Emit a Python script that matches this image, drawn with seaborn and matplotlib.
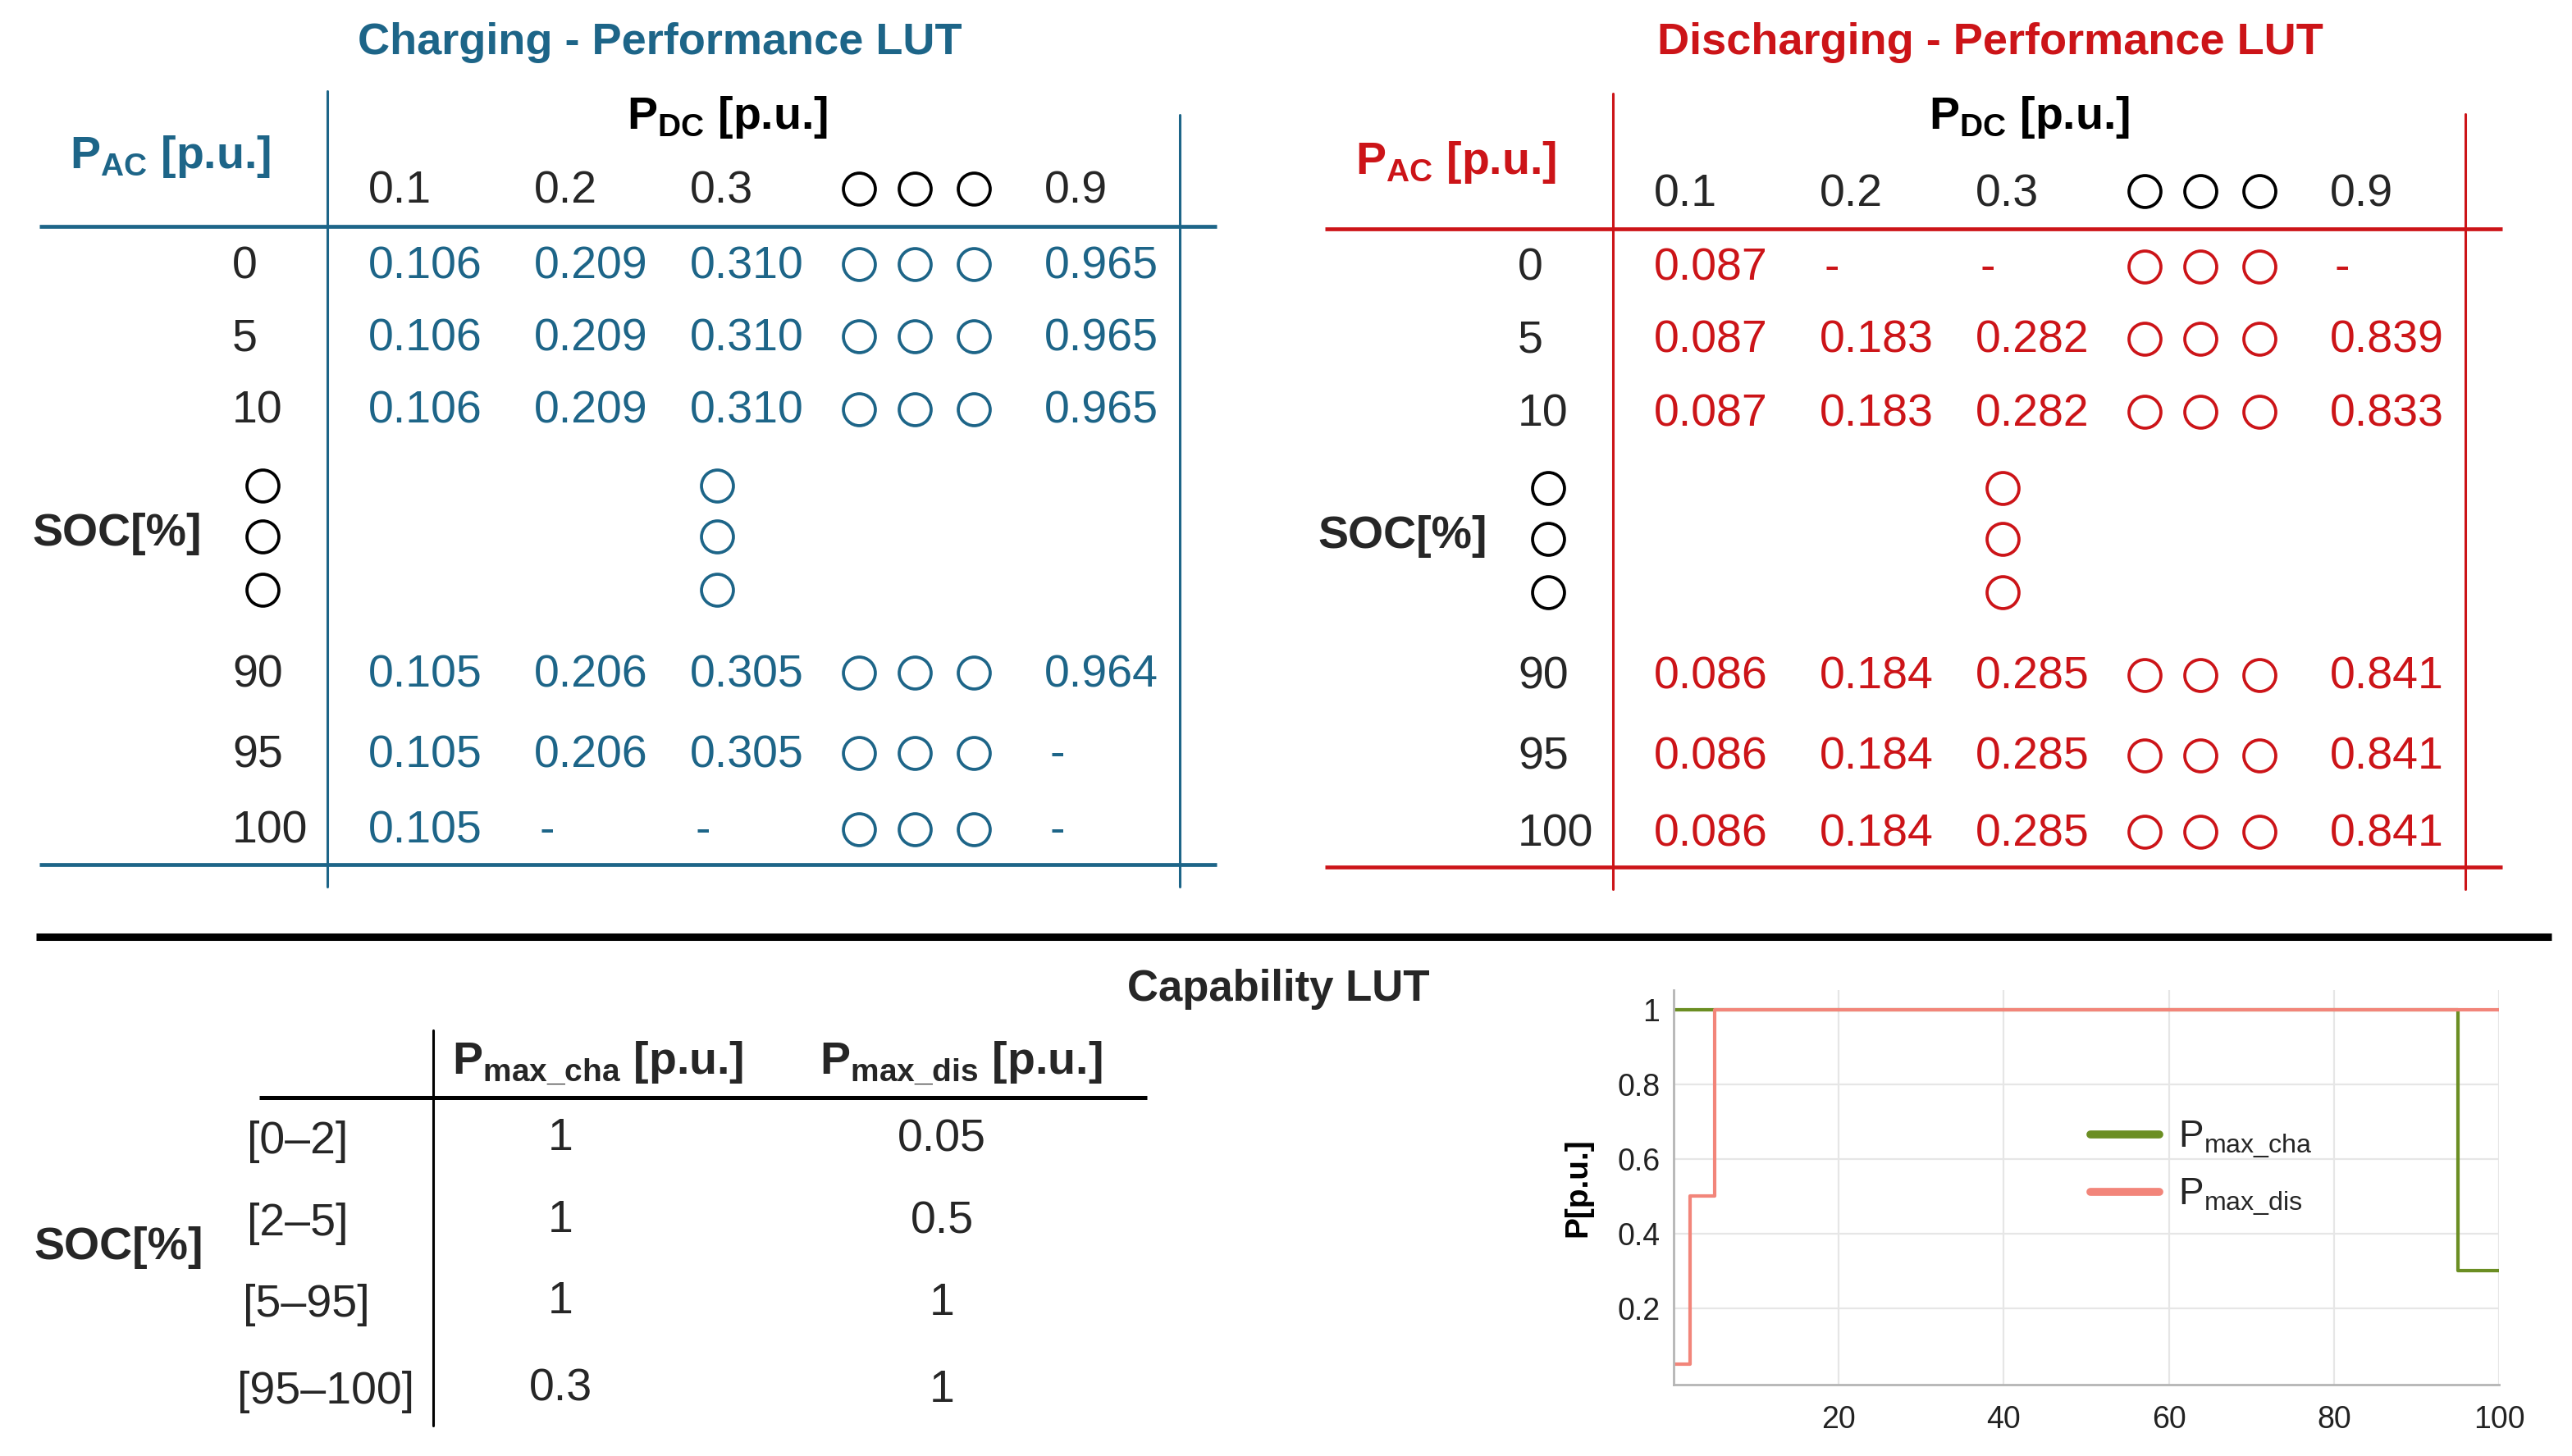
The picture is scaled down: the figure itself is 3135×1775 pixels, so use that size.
"""
Charging / discharging performance LUTs, capability LUT and the
SOC-dependent power limits (step plot).
"""

import numpy as np
import pandas as pd
import matplotlib
matplotlib.use("Agg")
import matplotlib.pyplot as plt
import seaborn as sns

# ---------------------------------------------------------------- data
pdc_labels = ["0.1", "0.2", "0.3", "0.9"]
soc_rows = ["0", "5", "10", "90", "95", "100"]

# None -> "-" (not available)
charge_lut = [
    [0.106, 0.209, 0.310, 0.965],
    [0.106, 0.209, 0.310, 0.965],
    [0.106, 0.209, 0.310, 0.965],
    [0.105, 0.206, 0.305, 0.964],
    [0.105, 0.206, 0.305, None],
    [0.105, None, None, None],
]
discharge_lut = [
    [0.087, None, None, None],
    [0.087, 0.183, 0.282, 0.839],
    [0.087, 0.183, 0.282, 0.833],
    [0.086, 0.184, 0.285, 0.841],
    [0.086, 0.184, 0.285, 0.841],
    [0.086, 0.184, 0.285, 0.841],
]

soc_bins = ["[0–2]", "[2–5]", "[5–95]", "[95–100]"]
pmax_cha = [1, 1, 1, 0.3]
pmax_dis = [0.05, 0.5, 1, 1]

# step curves (steps-post)
soc_cha = [0, 95, 100]
p_cha = [1, 0.3, 0.3]
soc_dis = [0, 2, 5, 100]
p_dis = [0.05, 0.5, 1, 1]

# ---------------------------------------------------------------- style
W, H = 3135, 1775
TEAL = "#1d6588"
RED = "#cc1418"
GREEN = "#6b8e23"
SALMON = "#f2857a"
FS = 40

sns.set_style("white")
plt.rcParams["font.family"] = ["Liberation Sans", "DejaVu Sans"]
plt.rcParams["mathtext.fontset"] = "custom"
plt.rcParams["mathtext.rm"] = "Liberation Sans"
plt.rcParams["mathtext.bf"] = "Liberation Sans:bold"

fig = plt.figure(figsize=(W / 100, H / 100), dpi=100)
bg = fig.add_axes([0, 0, 1, 1])
bg.set_xlim(0, W)
bg.set_ylim(H, 0)
bg.axis("off")


def fmt(v):
    return "-" if v is None else f"{v:.3f}"


def circle(x, y, color):
    bg.plot([x], [y], marker="o", ms=28, mfc="none", mec=color, mew=2.7)


def perf_table(dx, dy, color, title, title_x, pac_y, vals, vtop_l, vtop_r):
    col_left = [449, 651, 841, 1273]
    dot_cols = [1047, 1115, 1187]
    row_y = [325, 413, 502, 823, 921, 1014]
    gap_y = [592, 654, 719]

    bg.text(title_x, 52, title, color=color, fontsize=39, fontweight="bold",
            ha="center", va="center")
    bg.text(208 + dx, pac_y, r"P$_{\mathbf{AC}}$ [p.u.]", color=color,
            fontsize=FS, fontweight="bold", ha="center", va="baseline")
    bg.text(887 + dx + (20 if dx else 0), 157, r"P$_{\mathbf{DC}}$ [p.u.]",
            color="black", fontsize=FS, fontweight="bold", ha="center",
            va="baseline")

    # column headers
    for lbl, x in zip(pdc_labels, col_left):
        bg.text(x + dx, 234 + dy, lbl, fontsize=FS, ha="left", va="center")
    for x in dot_cols:
        circle(x + dx, 230 + dy, "black")

    # rows
    for lbl, y, row in zip(soc_rows, row_y, vals):
        y = y + dy
        bg.text(283 + dx, y, lbl, fontsize=FS, ha="left", va="center")
        for v, x in zip(row, col_left):
            bg.text(x + dx + (6 if v is None else 0), y, fmt(v), color=color,
                    fontsize=FS, ha="left", va="center")
        for x in dot_cols:
            circle(x + dx, y - 3, color)

    for y in gap_y:
        circle(320 + dx, y + dy, "black")
        circle(874 + dx, y + dy, color)

    bg.text(143 + dx, 651 + dy, "SOC[%]", fontsize=FS, fontweight="bold",
            ha="center", va="center")

    # table rules
    bg.plot([48 + dx, 1483 + dx], [276 + dy, 276 + dy], color=color, lw=3.4,
            solid_capstyle="butt")
    bg.plot([48 + dx, 1483 + dx], [1054 + dy, 1054 + dy], color=color,
            lw=3.4, solid_capstyle="butt")
    bg.plot([399 + dx, 399 + dx], [vtop_l, 1081 + dy], color=color, lw=2.2)
    bg.plot([1438 + dx, 1438 + dx], [vtop_r, 1081 + dy], color=color, lw=2.2)


perf_table(0, 0, TEAL, "Charging - Performance LUT", 804, 205, charge_lut,
           111, 140)
perf_table(1567, 3, RED, "Discharging - Performance LUT", 2426, 212,
           discharge_lut, 114, 139)

# separator
bg.plot([44, 3110], [1142, 1142], color="black", lw=6.5, solid_capstyle="butt")

# ---------------------------------------------------------------- capability LUT
bg.text(1558, 1206, "Capability LUT", fontsize=38, fontweight="bold",
        ha="center", va="center")
bg.text(729, 1309, r"P$_{\mathbf{max\_cha}}$ [p.u.]", fontsize=FS,
        fontweight="bold", ha="center", va="baseline")
bg.text(1171, 1309, r"P$_{\mathbf{max\_dis}}$ [p.u.]", fontsize=FS,
        fontweight="bold", ha="center", va="baseline")
cap_y = [1392, 1492, 1591, 1697]
cap_left = [301, 301, 296, 289]
for lbl, y, xl, a, b in zip(soc_bins, cap_y, cap_left, pmax_cha, pmax_dis):
    bg.text(xl, y, lbl, fontsize=FS, ha="left", va="center")
    bg.text(683, y - 4, f"{a:g}", fontsize=FS, ha="center", va="center")
    bg.text(1148, y - 2, f"{b:g}", fontsize=FS, ha="center", va="center")
bg.text(145, 1521, "SOC[%]", fontsize=FS, fontweight="bold", ha="center",
        va="center")
bg.plot([316, 1398], [1338, 1338], color="black", lw=3.6, solid_capstyle="butt")
bg.plot([528, 528], [1256, 1738], color="black", lw=2.2)

# ---------------------------------------------------------------- step plot
df = pd.concat([
    pd.DataFrame({"SOC": soc_cha, "P": p_cha, "limit": "cha"}),
    pd.DataFrame({"SOC": soc_dis, "P": p_dis, "limit": "dis"}),
], ignore_index=True)

ax = fig.add_axes([2040 / W, 1 - 1688 / H, 1006 / W, (1688 - 1207) / H])
sns.lineplot(data=df, x="SOC", y="P", hue="limit", hue_order=["cha", "dis"],
             palette=[GREEN, SALMON], estimator=None, sort=True,
             drawstyle="steps-post", lw=3.0, legend=False, ax=ax)
ax.set_xlim(0, 100)
ax.set_ylim(-0.005, 1.053)
ax.set_xticks([20, 40, 60, 80, 100])
ax.set_yticks([0.2, 0.4, 0.6, 0.8, 1.0])
ax.set_yticklabels(["0.2", "0.4", "0.6", "0.8", "1"])
ax.set_xlabel("")
ax.set_ylabel("P[p.u.]", fontsize=28, fontweight="bold", color="black")
ax.yaxis.set_label_coords(-0.098, 0.5)
ax.tick_params(axis="both", length=0, labelsize=27, labelcolor="#222222")
ax.tick_params(axis="x", pad=18)
ax.tick_params(axis="y", pad=12)
ax.grid(True, color="#e6e6e6", lw=1.6)
for side in ["top", "right"]:
    ax.spines[side].set_visible(False)
for side in ["left", "bottom"]:
    ax.spines[side].set_color("#b5b5b5")
    ax.spines[side].set_linewidth(2)

leg = ax.legend(ax.lines[:2],
                [r"P$_{\mathrm{max\_cha}}$", r"P$_{\mathrm{max\_dis}}$"],
                loc="upper left", bbox_to_anchor=(0.505, 0.672), frameon=False,
                fontsize=33, handlelength=1.83, handletextpad=0.5,
                labelspacing=0.45, borderaxespad=0, borderpad=0)
for h in leg.legend_handles:
    h.set_linewidth(7)

fig.savefig("out.png", dpi=100)
